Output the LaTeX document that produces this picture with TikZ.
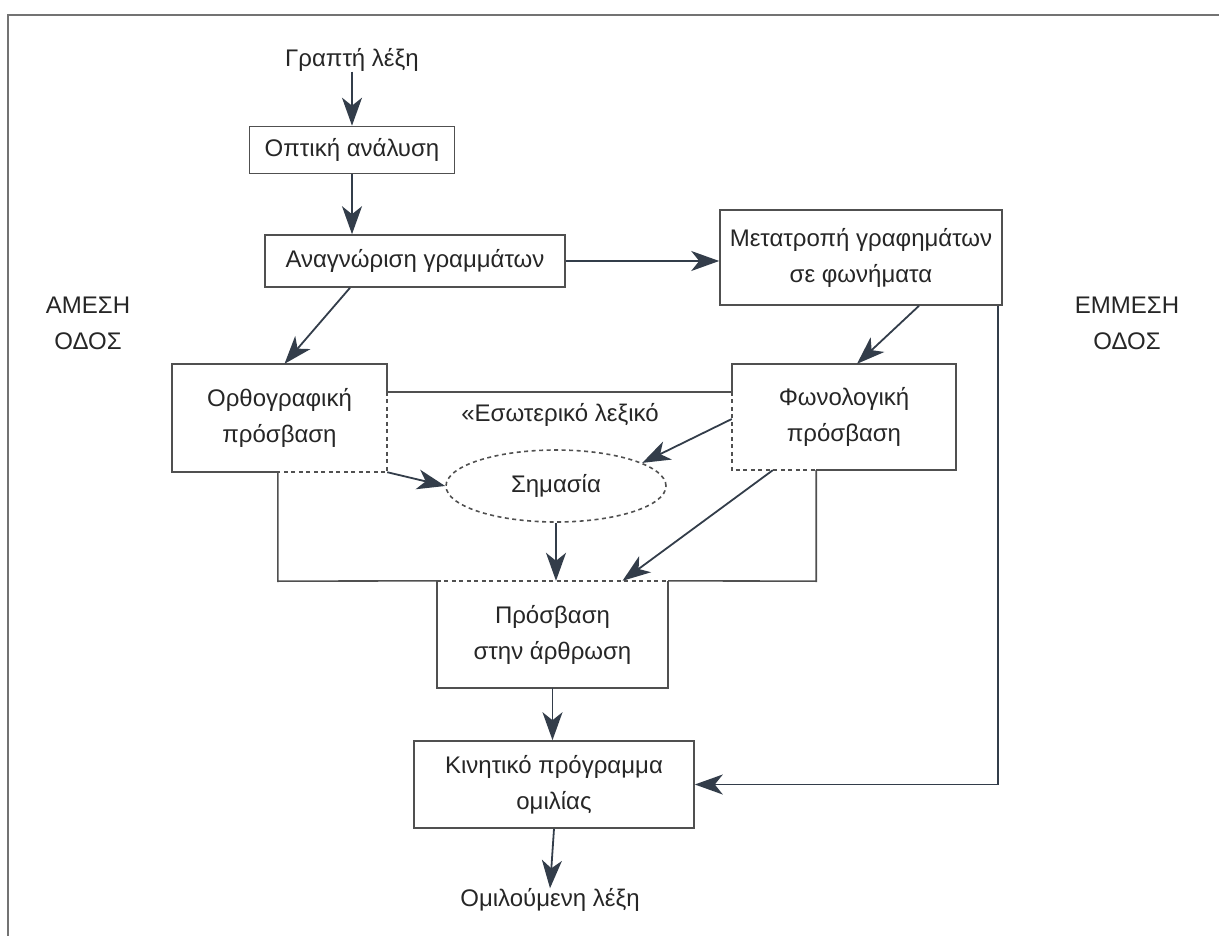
\documentclass[tikz,border=0pt]{standalone}
\usepackage{fontspec}
\setmainfont{Liberation Sans}
\usetikzlibrary{arrows.meta,shapes.geometric}
\definecolor{ln}{HTML}{505050}
\definecolor{ar}{HTML}{333D4A}
\definecolor{tx}{HTML}{262626}
\begin{document}
\begin{tikzpicture}[x=1pt,y=-1pt,
  lbl/.style={font=\fontsize{24}{36}\selectfont, text=tx, align=center, inner sep=0pt},
  boxn/.style={lbl, draw=ln, line width=1.6pt},
  area/.style={lbl, draw=none},
  solidl/.style={draw=ln, line width=1.6pt},
  dashl/.style={draw=ln, line width=1.6pt, dash pattern=on 4pt off 3.5pt},
  arr/.style={draw=ar, line width=1.8pt, -{Stealth[length=28pt,width=20pt,inset=8pt]}}]
\useasboundingbox (0,0) rectangle (1219,936);
% frame
\draw[draw=ln!80, line width=1.5pt] (8,936) -- (8,15) -- (1219,15);
% texts and boxes
\node[lbl] (graf) at (352,60) {Γραπτή λέξη};
\node[boxn, minimum width=205pt, minimum height=47pt] (opt) at (352,150) {Οπτική ανάλυση};
\node[boxn, minimum width=300pt, minimum height=52pt] (anag) at (415,261) {Αναγνώριση γραμμάτων};
\node[boxn, minimum width=282pt, minimum height=95pt] (meta) at (861,257.5) {Μετατροπή γραφημάτων\\σε φωνήματα};
\node[lbl] (amesi) at (88,323) {ΑΜΕΣΗ\\ΟΔΟΣ};
\node[lbl] (emmesi) at (1127,323) {ΕΜΜΕΣΗ\\ΟΔΟΣ};
\node[area, minimum width=215pt, minimum height=108pt] (orth) at (279.5,418) {Ορθογραφική\\πρόσβαση};
\node[area, minimum width=224pt, minimum height=106pt] (phon) at (844,417) {Φωνολογική\\πρόσβαση};
\node[area, minimum width=538pt, minimum height=189pt] (lex) at (547,486.5) {};
\node[lbl] (lextxt) at (560,415) {«Εσωτερικό λεξικό};
\node[lbl, draw=ln, line width=1.6pt, dash pattern=on 4pt off 3.5pt, ellipse, minimum width=220pt, minimum height=72pt] (sem) at (556,486) {Σημασία};
\node[area, minimum width=231pt, minimum height=107pt] (acc) at (552.5,634.5) {Πρόσβαση\\στην άρθρωση};
\node[boxn, minimum width=280pt, minimum height=87pt] (kin) at (554,784.5) {Κινητικό πρόγραμμα\\ομιλίας};
\node[lbl] (omil) at (550,900) {Ομιλούμενη λέξη};
% lexicon outline (solid)
\draw[solidl] (orth.north east |- lex.north) -- (phon.north west |- lex.north);
\draw[solidl] (lex.west |- orth.south) -- (lex.south west) -- (acc.north west);
\draw[solidl] (acc.north east) -- (lex.south east) -- (lex.east |- phon.south);
% orthographic box
\draw[solidl] (lex.west |- orth.south) -- (orth.south west) -- (orth.north west) -- (orth.north east) -- (orth.north east |- lex.north);
\draw[dashl] (orth.north east |- lex.north) -- (orth.south east) -- (lex.west |- orth.south);
% phonological box
\draw[solidl] (phon.north west |- lex.north) -- (phon.north west) -- (phon.north east) -- (phon.south east) -- (lex.east |- phon.south);
\draw[dashl] (phon.north west |- lex.north) -- (phon.south west) -- (lex.east |- phon.south);
% access to articulation box
\draw[solidl] (acc.north west) -- (acc.south west) -- (acc.south east) -- (acc.north east);
\draw[dashl] (acc.north west) -- (acc.north east);
% arrows
\draw[arr] (graf) -- (graf |- opt.north);
\draw[arr] (opt.south) -- (opt.south |- anag.north);
\draw[arr] (anag.east) -- (meta.west |- anag.east);
\draw[arr] ([xshift=-65pt]anag.south) -- ([xshift=5pt]orth.north);
\draw[arr] ([xshift=58pt]meta.south) -- ([xshift=13pt]phon.north);
\draw[arr] (orth.south east) -- (sem.west);
\draw[arr] ([yshift=-2pt]phon.west) -- (sem.15);
\draw[arr] ([xshift=41pt]phon.south west) -- ([xshift=70pt]acc.north);
\draw[arr] (sem.south) -- (sem.south |- acc.north);
\draw[arr] (acc.south) -- (acc.south |- kin.north);
\draw[arr] (kin.south) -- (omil.north);
\draw[arr] ([xshift=137pt]meta.south) |- (kin.east);
\end{tikzpicture}
\end{document}
